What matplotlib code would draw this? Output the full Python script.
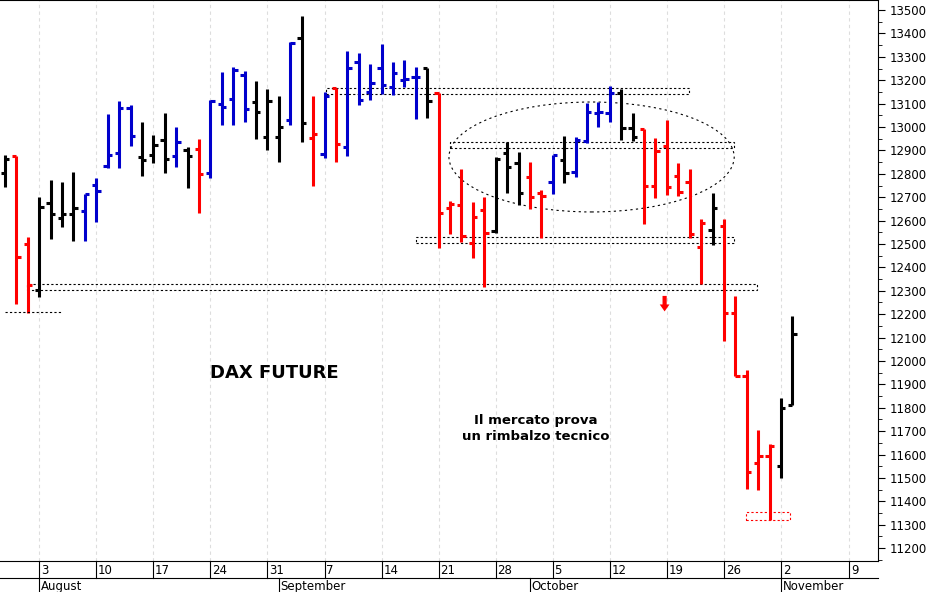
import matplotlib
matplotlib.use("Agg")
import matplotlib.pyplot as plt
import numpy as np
import pandas as pd
from matplotlib.patches import Ellipse, Rectangle
from matplotlib.ticker import MultipleLocator
from matplotlib.transforms import blended_transform_factory

dates = pd.bdate_range("2020-07-29", periods=70)
opens = [12803,12876,12500,12303,12675,12611,12628,12641,12752,12833,12889,13081,12870,12880,12944,12876,12902,12906,12803,13100,
         13119,13222,13107,12957,12957,13030,13380,12953,12885,13167,12914,13278,13150,13252,13171,13201,13214,13252,13145,12654,
         12667,12504,12645,12555,12889,12846,12786,12718,12765,12859,12808,12940,13060,13060,13145,12996,12991,12748,12919,12790,
         12765,12489,12561,12575,12205,11935,11565,11593,11551,11810]
highs = [12880,12876,12530,12701,12773,12765,12808,12714,12782,13055,13111,13094,13021,12966,13060,13000,12914,12949,13115,13235,
         13256,13239,13197,13162,13132,13363,13474,13132,13150,13167,13325,13316,13269,13355,13278,13286,13256,13252,13145,12684,
         12820,12679,12701,12871,12936,12893,12850,12731,12880,12961,12957,13102,13107,13175,13162,13060,12991,12953,13030,12846,
         12820,12606,12717,12606,12279,11960,11707,11643,11842,12191]
lows = [12743,12243,12205,12273,12521,12573,12513,12513,12594,12825,12825,12919,12790,12846,12803,12829,12739,12632,12782,13008,
        13008,13021,12949,12902,12850,13008,12936,12748,12867,12850,12876,13094,13115,13141,13137,13171,13034,13038,12483,12543,
        12509,12440,12316,12547,12718,12667,12649,12526,12714,12761,12786,12931,13000,13021,12944,12940,12585,12697,12709,12705,
        12526,12330,12497,12084,11935,11451,11448,11320,11501,11810]
closes = [12863,12444,12325,12658,12628,12628,12654,12714,12726,12880,13081,12961,12860,12923,12863,12936,12876,12799,13111,13085,
          13244,13077,13064,13111,13000,13359,13017,12970,13132,12927,13252,13115,13188,13180,13231,13205,13214,13111,12632,12671,
          12534,12615,12547,12863,12829,12718,12701,12705,12880,12803,12944,13064,13064,13145,12996,12957,12748,12897,12743,12722,
          12543,12589,12653,12205,11935,11525,11593,11636,11800,12117]
colors = ["k","r","r","k","k","k","k","b","b","b","b","b","k","k","k","b","k","r","b","b",
          "b","b","k","k","k","b","k","r","b","r","b","b","b","b","b","b","b","k","r","r",
          "r","r","r","k","k","k","r","r","b","k","b","b","b","b","k","k","r","r","r","r",
          "r","r","k","r","r","r","r","r","k","k"]
cmap = {"k": "#000000", "r": "#ff0000", "b": "#0000cc"}

fig = plt.figure(figsize=(9.27, 5.92), dpi=100)
ax = fig.add_axes([0.0, 31/592, 878/927, 561/592])
x = np.arange(len(dates))
for i in x:
    c = cmap[colors[i]]
    ax.plot([i, i], [lows[i], highs[i]], color=c, lw=2.2, solid_capstyle="butt")
    ax.plot([i - 0.38, i], [opens[i], opens[i]], color=c, lw=2.2, solid_capstyle="butt")
    ax.plot([i, i + 0.38], [closes[i], closes[i]], color=c, lw=2.2, solid_capstyle="butt")

ax.set_xlim(-0.44, 76.5)
ax.set_ylim(11145, 13543)

zones = [(1.9, 65.9, 12303, 12329), (28.1, 59.9, 13141, 13167), (39.0, 63.9, 12910, 12936),
         (36.0, 63.9, 12504, 12530)]
for x0, x1, y0, y1 in zones:
    ax.add_patch(Rectangle((x0, y0), x1 - x0, y1 - y0, fill=False, ls=(0, (2, 2)), lw=0.8, ec="black"))
ax.plot([0, 5], [12209, 12209], ls=(0, (2, 2)), lw=0.8, color="black")
ax.add_patch(Rectangle((64.9, 11320), 3.9, 35, fill=False, ls=(0, (2, 2)), lw=0.8, ec="red"))
ax.add_patch(Ellipse((51.4, 12872), 25.0, 470, fill=False, ls=(0, (2, 3)), lw=0.8, ec="black"))
ax.annotate("", xy=(57.8, 12200), xytext=(57.8, 12290),
            arrowprops=dict(arrowstyle="simple,head_width=0.7,head_length=0.5,tail_width=0.3", color="red", lw=0))

ax.text(18.0, 11950, "DAX FUTURE", fontsize=13, fontweight="bold", ha="left", va="center")
ax.text(46.5, 11710, "Il mercato prova\nun rimbalzo tecnico", fontsize=9.5, fontweight="bold",
        ha="center", va="center", linespacing=1.3)

ax.yaxis.tick_right()
ax.yaxis.set_minor_locator(MultipleLocator(50))
ax.tick_params(axis="y", labelsize=8.5, length=5, direction="out")
ax.tick_params(axis="y", which="minor", length=3)
ax.set_yticks(np.arange(11200, 13501, 100))

mondays = [i for i, d in enumerate(dates) if d.weekday() == 0] + [74]
labels = [str(dates[i].day) for i in mondays[:-1]] + ["9"]
ax.set_xticks(mondays)
ax.set_xticklabels([])
ax.tick_params(axis="x", length=0)
for m in mondays:
    ax.axvline(m, color="#dddddd", lw=0.8, ls=(0, (3, 3)), zorder=0)
trans = blended_transform_factory(ax.transData, ax.transAxes)
for m, lab in zip(mondays, labels):
    ax.text(m + 0.15, -0.005, lab, transform=trans, fontsize=8.5, ha="left", va="top")
    ax.plot([m, m], [0, -0.03], transform=trans, color="black", lw=0.8, clip_on=False)
month_pos = [(3, "August"), (24, "September"), (46, "October"), (68, "November")]
for m, lab in month_pos:
    ax.text(m + 0.15, -0.033, lab, transform=trans, fontsize=8.5, ha="left", va="top")
    ax.plot([m, m], [-0.03, -0.055], transform=trans, color="black", lw=0.8, clip_on=False)
ax.plot([0, 1], [-0.03, -0.03], transform=ax.transAxes, color="black", lw=0.8, clip_on=False)
ax.spines["left"].set_visible(False)

fig.savefig("out.png", dpi=100)
